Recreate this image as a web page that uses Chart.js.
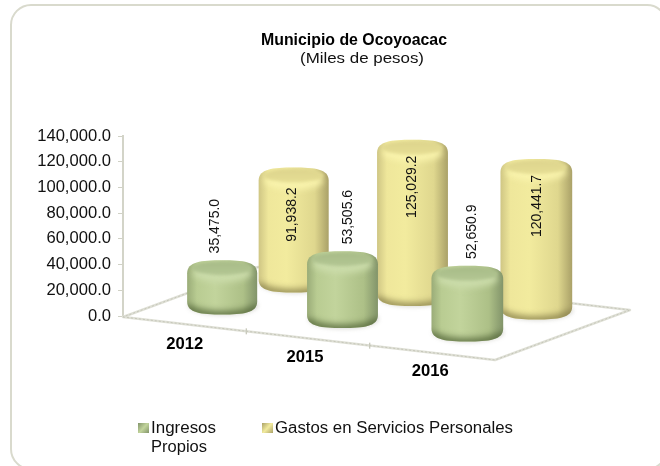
<!DOCTYPE html>
<html><head><meta charset="utf-8">
<style>html,body{margin:0;padding:0;background:#fff}#w{width:660px;height:466px;position:relative;overflow:hidden}canvas{filter:blur(0.35px)}</style>
<script src="https://cdn.jsdelivr.net/npm/chart.js@4"></script>
</head><body><div id="w"><canvas id="c" width="660" height="466"></canvas></div>
<script>
const categories = ['2012', '2015', '2016'];
const ingresosPropios = [35475.0, 53505.6, 52650.9];
const gastosPersonales = [91938.2, 125029.2, 120441.7];
const yTicks = [0, 20000, 40000, 60000, 80000, 100000, 120000, 140000];
const titleText = 'Municipio de Ocoyoacac';
const subtitleText = '(Miles de pesos)';
const seriesNames = ['Ingresos Propios', 'Gastos en Servicios Personales'];

const FONT = '"Liberation Sans", Arial, sans-serif';
const fmt = v => v.toLocaleString('en-US', {minimumFractionDigits: 1, maximumFractionDigits: 1});

const look = [
  {edgeL:'#9aac78',mid1:'#b9cc92',mid2:'#c2d49c',mid3:'#adc087',edgeR:'#82946a',cap1:'#a6ba86',cap2:'#b4c794',rim:'#cbdcaa',foot:'rgba(84,102,58,0.8)',dx:36,dy:-17.75,lift:-34,shift:[1.5,-1.5,0],nudge:[-7,5.5,4.7]},
  {edgeL:'#cfc684',mid1:'#efe79b',mid2:'#f2eb9e',mid3:'#dfd78e',edgeR:'#aaa168',cap1:'#dcd38c',cap2:'#e6de94',rim:'#f9f3ac',foot:'rgba(130,122,70,0.75)',dx:106,dy:-39.75,lift:47,shift:[3,-1.5,-1],nudge:[-2,0,1]}
];
const SLOPE = 0.1095, HK = 0.972, HC = 9.5, CAPB = 10;
const catLabelShift = [0, -3, -1];

function geom(bar, ds, i, left) {
  const s = look[ds];
  const cx = bar.x + s.dx + s.shift[i];
  const w = bar.width * (1 + 0.012 * i);
  const by = bar.base + SLOPE * (bar.x - left) + s.dy;
  const yc = by - (HK * (bar.base - bar.y) - HC);
  return {cx, w, by, yc, rx: w / 2, s};
}

Chart.BarElement.prototype.draw = function (ctx) {
  const g = geom(this, this._ds, this._i, this._left);
  const {cx, rx, by, yc, s} = g, b = CAPB, x0 = cx - rx, x1 = cx + rx;
  ctx.save();
  ctx.save();
  ctx.filter = 'blur(2px)';
  ctx.fillStyle = 'rgba(90,90,70,0.22)';
  ctx.beginPath(); ctx.ellipse(cx + 1, by + 1, rx, b, 0, 0, Math.PI * 2); ctx.fill();
  ctx.restore();
  ctx.beginPath();
  ctx.moveTo(x0, yc + 3);
  ctx.bezierCurveTo(x0, yc - b * 0.85, cx - rx * 0.6, yc - b, cx, yc - b);
  ctx.bezierCurveTo(cx + rx * 0.6, yc - b, x1, yc - b * 0.85, x1, yc + 3);
  ctx.lineTo(x1, by - 3);
  ctx.bezierCurveTo(x1, by + b * 0.85, cx + rx * 0.6, by + b, cx, by + b);
  ctx.bezierCurveTo(cx - rx * 0.6, by + b, x0, by + b * 0.85, x0, by - 3);
  ctx.closePath();
  ctx.save();
  ctx.clip();
  const hg = ctx.createLinearGradient(x0, 0, x1, 0);
  hg.addColorStop(0, s.edgeL); hg.addColorStop(0.14, s.mid1); hg.addColorStop(0.4, s.mid2);
  hg.addColorStop(0.8, s.mid3); hg.addColorStop(1, s.edgeR);
  ctx.fillStyle = hg; ctx.fillRect(x0 - 1, yc - b - 1, rx * 2 + 2, by - yc + 2 * b + 2);
  // soft dark rim following the lower edge
  ctx.save();
  ctx.filter = 'blur(3px)';
  ctx.strokeStyle = s.foot; ctx.lineWidth = 9;
  ctx.beginPath(); ctx.ellipse(cx, by + 1, rx, b, 0, 0, Math.PI); ctx.stroke();
  ctx.restore();
  ctx.save();
  ctx.filter = 'blur(3px)';
  ctx.fillStyle = s.rim;
  ctx.beginPath(); ctx.ellipse(cx, yc + 3, rx * 0.84, b * 0.9, 0, 0, Math.PI * 2); ctx.fill();
  ctx.restore();
  ctx.save();
  ctx.filter = 'blur(1.5px)';
  const cg = ctx.createLinearGradient(0, yc - b, 0, yc + b * 0.6);
  cg.addColorStop(0, s.cap1); cg.addColorStop(1, s.cap2);
  ctx.fillStyle = cg;
  ctx.beginPath(); ctx.ellipse(cx, yc - 2, rx * 0.86, b * 0.7, 0, 0, Math.PI * 2); ctx.fill();
  ctx.restore();
  ctx.restore();
  ctx.restore();
};

function stretched(ctx, text, x, y, font, color, width, align) {
  ctx.save();
  ctx.font = font; ctx.fillStyle = color; ctx.textBaseline = 'alphabetic'; ctx.textAlign = 'left';
  const m = ctx.measureText(text).width;
  const sx = width / m;
  const left = align === 'center' ? x - width / 2 : x;
  ctx.translate(left, y); ctx.scale(sx, 1);
  ctx.fillText(text, 0, 0);
  ctx.restore();
}

const sceneryPlugin = {
  id: 'scenery',
  beforeDraw(chart) {
    const ctx = chart.ctx;
    ctx.save();
    ctx.fillStyle = '#fff'; ctx.fillRect(0, 0, chart.width, chart.height);
    ctx.strokeStyle = '#d9dacd'; ctx.lineWidth = 2;
    ctx.beginPath(); ctx.roundRect(11, 5, 656, 464, 20); ctx.stroke();
    ctx.restore();
  },
  beforeDatasetsDraw(chart) {
    const ctx = chart.ctx, a = chart.chartArea, xs = chart.scales.x;
    chart.data.datasets.forEach((d, ds) => chart.getDatasetMeta(ds).data.forEach((bar, i) => {
      bar._ds = ds; bar._i = i; bar._left = a.left;
    }));
    const L = {x: a.left, y: a.bottom + 1};
    const F = {x: a.right + 2, y: a.bottom + 44};
    const R = {x: F.x + 135, y: F.y - 50};
    const B = {x: L.x + 135, y: L.y - 50};
    ctx.save();
    ctx.lineJoin = 'round';
    for (const pass of [{c: '#dfe0d6', w: 2.4, d: []}, {c: '#c6c7ba', w: 1, d: [2, 2]}]) {
      ctx.strokeStyle = pass.c; ctx.lineWidth = pass.w; ctx.setLineDash(pass.d);
      ctx.beginPath(); ctx.moveTo(L.x, L.y); ctx.lineTo(F.x, F.y); ctx.lineTo(R.x, R.y); ctx.lineTo(B.x, B.y); ctx.closePath(); ctx.stroke();
    }
    ctx.setLineDash([]);
    ctx.strokeStyle = '#c9cabd'; ctx.lineWidth = 1.4;
    const cw = (a.right - a.left) / categories.length;
    [1, 2].forEach(k => {
      const px = xs.getPixelForTick(k) - cw / 2, py = L.y + (F.y - L.y) * k / categories.length;
      ctx.beginPath(); ctx.moveTo(px, py - 3); ctx.lineTo(px, py + 3); ctx.stroke();
    });
    ctx.restore();
  },
  afterDatasetsDraw(chart) {
    const ctx = chart.ctx, a = chart.chartArea, xs = chart.scales.x;
    chart.data.datasets.forEach((d, ds) => {
      chart.getDatasetMeta(ds).data.forEach((bar, i) => {
        const g = geom(bar, ds, i, a.left), s = look[ds];
        const topEdge = g.yc - CAPB;
        ctx.save();
        ctx.translate(g.cx + s.nudge[i], topEdge + s.lift);
        ctx.rotate(-Math.PI / 2);
        ctx.font = '14px ' + FONT; ctx.fillStyle = '#111';
        ctx.textAlign = 'center'; ctx.textBaseline = 'middle';
        ctx.fillText(fmt(d.data[i]), 0, 0);
        ctx.restore();
      });
    });
    categories.forEach((t, i) => {
      const px = xs.getPixelForTick(i);
      stretched(ctx, t, px + catLabelShift[i], a.bottom + 32.5 + 13.7 * i, 'bold 16px ' + FONT, '#000', 37, 'center');
    });
    stretched(ctx, titleText, 354, 44.5, 'bold 16px ' + FONT, '#000', 186, 'center');
    stretched(ctx, subtitleText, 362, 63, '15.5px ' + FONT, '#111', 124, 'center');
    const mark = (x, y, ds) => {
      const s = look[ds];
      const g = ctx.createLinearGradient(x, y, x + 11, y + 10);
      g.addColorStop(0, s.edgeR); g.addColorStop(0.5, s.mid2); g.addColorStop(1, s.edgeR);
      ctx.fillStyle = g; ctx.fillRect(x, y, 11, 10);
    };
    mark(138, 423, 0);
    const words = seriesNames[0].split(' ');
    stretched(ctx, words[0], 151, 433, '16px ' + FONT, '#111', 65);
    stretched(ctx, words[1], 151, 452, '16px ' + FONT, '#111', 56);
    mark(262, 423, 1);
    stretched(ctx, seriesNames[1], 275, 433, '16px ' + FONT, '#111', 238);
  }
};

new Chart(document.getElementById('c'), {
  type: 'bar',
  plugins: [sceneryPlugin],
  data: {
    labels: categories,
    datasets: [
      {label: seriesNames[0], data: ingresosPropios, backgroundColor: '#b9cc92', clip: false},
      {label: seriesNames[1], data: gastosPersonales, backgroundColor: '#efe79b', clip: false}
    ]
  },
  options: {
    responsive: false,
    animation: false,
    grouped: false,
    categoryPercentage: 1,
    barPercentage: 0.568,
    layout: {padding: {left: 0, top: 136, right: 167, bottom: 142}},
    plugins: {legend: {display: false}, title: {display: false}, tooltip: {enabled: false}},
    scales: {
      x: {
        grid: {display: false}, border: {display: false},
        ticks: {display: false}
      },
      y: {
        min: 0, max: 140000,
        afterBuildTicks(s) { s.ticks = yTicks.map(v => ({value: v})); },
        afterFit(s) { s.width = 123; },
        grid: {drawOnChartArea: false, color: '#d0d1c5', tickLength: 5},
        border: {color: '#d3d4c8', width: 2},
        ticks: {
          font: {family: FONT, size: 16.6}, color: '#111', padding: 7,
          callback: v => fmt(v)
        }
      }
    }
  }
});
</script></body></html>
